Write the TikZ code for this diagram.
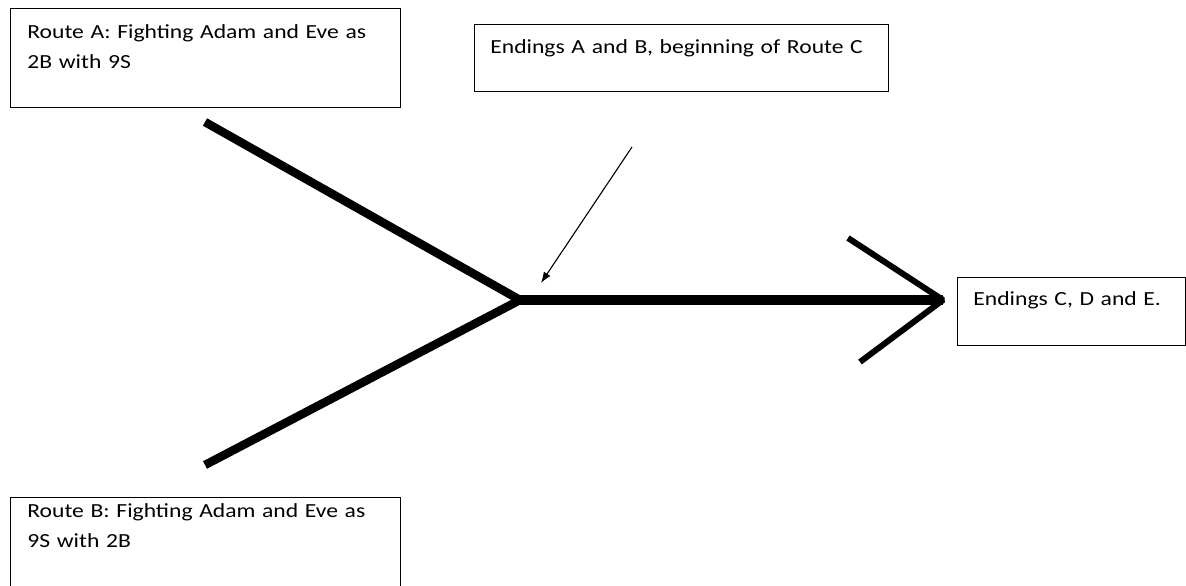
\documentclass[tikz,border=0pt]{standalone}
\usepackage{fontspec}
\setmainfont{Carlito}[FakeStretch=1.18]
\usepackage{tikz}
\usetikzlibrary{arrows.meta,positioning,calc}

\tikzset{
  routebox/.style={draw,line width=0.8bp,anchor=north west,align=left,
    inner ysep=0bp,font=\fontsize{20bp}{30bp}\selectfont},
  thickline/.style={line width=8.5bp,line join=bevel},
  barbline/.style={line width=6bp,line join=bevel},
  pointer/.style={line width=1.1bp,-{Latex[length=11bp,width=8bp]}},
}

\begin{document}
\begin{tikzpicture}[x=1bp,y=-1bp]
\useasboundingbox (0,0) rectangle (1186,586);
% text boxes
\node[routebox,inner xsep=17bp,text width=356bp,text height=30bp,text depth=69bp]
  (routeA) at (10,8) {Route A: Fighting Adam and Eve as\\2B with 9S};
\node[routebox,inner xsep=16bp,text width=382bp,text height=29bp,text depth=38bp]
  (routeC) at (474,24) {Endings A and B, beginning of Route C};
\node[routebox,inner xsep=16bp,text width=196bp,text height=28bp,text depth=40bp]
  (endCDE) at (957,277) {Endings C, D and E.};
\node[routebox,inner xsep=17bp,text width=356bp,text height=20bp,text depth=73bp]
  (routeB) at (10,497) {Route B: Fighting Adam and Eve as\\9S with 2B};
% the fork
\coordinate (fork) at (520,300);
\coordinate (upend) at (205,122);
\coordinate (lowend) at (205,465);
\coordinate (tip) at (943,300);
\coordinate (barbup) at (848,238);
\coordinate (barbdown) at (860,362);
\draw[thickline] (upend) -- (fork) -- (lowend);
\draw[thickline,line width=10bp] (fork) -- (tip);
\draw[barbline] (barbup) -- (tip) -- (barbdown);
% pointer to the fork
\coordinate (ptrstart) at (632,147);
\coordinate (ptrend) at (541,283);
\draw[pointer] (ptrstart) -- (ptrend);
\end{tikzpicture}
\end{document}
